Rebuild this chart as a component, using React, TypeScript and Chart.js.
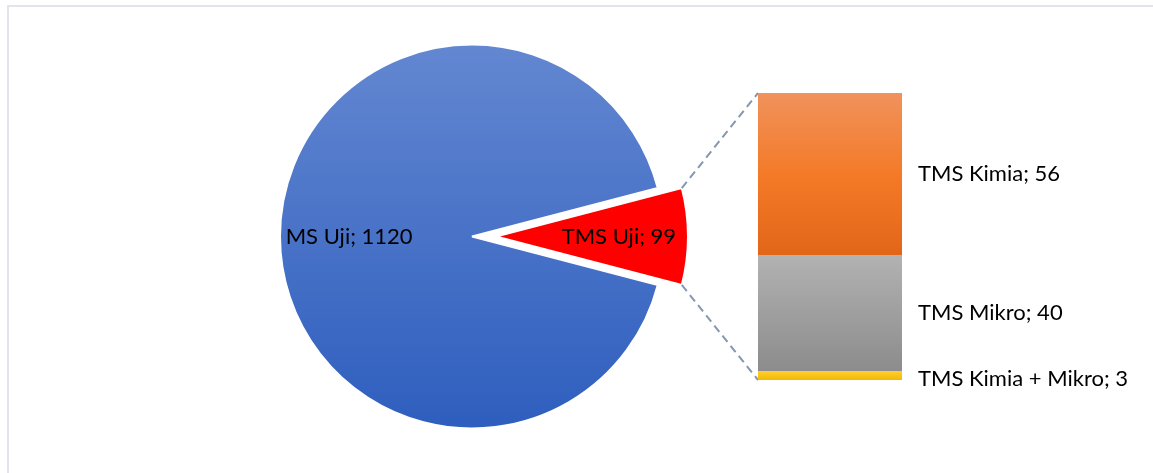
import React, { useEffect, useRef } from "react";
import { Chart, registerables } from "chart.js";
Chart.register(...registerables);

const pieLabels = ["TMS Uji", "MS Uji"];
const pieValues = [99, 1120];
const barLabels = ["TMS Kimia + Mikro", "TMS Mikro", "TMS Kimia"];
const barValues = [3, 40, 56];

const W = 1153;
const H = 473;
const PIE_CX = 472;
const PIE_R = 192;
const EXPLODE = [24, 0];
const FONT = "22px Lato";

const barStops: string[][] = [
  ["#ffcd30", "#f2b900"],
  ["#b2b2b2", "#8c8c8c"],
  ["#f0925c", "#f47a28", "#e26618"],
];

export default function App() {
  const pieRef = useRef<HTMLCanvasElement>(null);
  const barRef = useRef<HTMLCanvasElement>(null);

  useEffect(() => {
    if (!pieRef.current || !barRef.current) return;

    const barLabelPlugin = {
      id: "barLabels",
      afterDatasetsDraw(chart: any) {
        const ctx = chart.ctx;
        ctx.save();
        ctx.font = FONT;
        ctx.fillStyle = "#000";
        ctx.textAlign = "left";
        ctx.textBaseline = "middle";
        chart.data.datasets.forEach((ds: any, i: number) => {
          const el: any = chart.getDatasetMeta(i).data[0];
          if (!el) return;
          const x = el.x + el.width / 2 + 16;
          const y = (el.y + el.base) / 2 + (i === 0 ? 3 : 0);
          ctx.fillText(`${ds.label}; ${ds.data[0]}`, x, y);
        });
        ctx.restore();
      },
    };

    const cum: number[] = [];
    barValues.reduce((acc, v, i) => {
      cum[i] = acc;
      return acc + v;
    }, 0);
    const barTotal = barValues.reduce((a, b) => a + b, 0);

    const barChart = new Chart(barRef.current, {
      type: "bar",
      data: {
        labels: ["TMS"],
        datasets: barValues.map((v, i) => ({
          label: barLabels[i],
          data: [v],
          borderWidth: 0,
          barPercentage: 1,
          categoryPercentage: 1,
          backgroundColor: (c: any) => {
            const chart = c.chart;
            const ys = chart.scales?.y;
            if (!ys) return barStops[i][0];
            const top = ys.getPixelForValue(cum[i] + v);
            const bot = ys.getPixelForValue(cum[i]);
            if (!isFinite(top) || !isFinite(bot) || top === bot) return barStops[i][0];
            const g = chart.ctx.createLinearGradient(0, top, 0, bot);
            const st = barStops[i];
            st.forEach((col, k) => g.addColorStop(k / (st.length - 1), col));
            return g;
          },
        })),
      },
      options: {
        responsive: false,
        animation: false,
        devicePixelRatio: 1,
        layout: { padding: { left: 758, right: W - 902, top: 93, bottom: H - 380 } },
        plugins: { legend: { display: false }, tooltip: { enabled: false } },
        events: [],
        scales: {
          x: { stacked: true, display: false },
          y: { stacked: true, display: false, min: 0, max: barTotal },
        },
      },
      plugins: [barLabelPlugin],
    } as any);

    const total = pieValues.reduce((a, b) => a + b, 0);
    const redDeg = (pieValues[0] / total) * 360;

    const piePlugin = {
      id: "pieExtras",
      beforeDatasetDraw(chart: any, args: any) {
        const ctx = chart.ctx;
        args.meta.data.forEach((el: any, i: number) => {
          const t = EXPLODE[i] || 0;
          const m = (el.startAngle + el.endAngle) / 2;
          ctx.save();
          ctx.translate(Math.cos(m) * t, Math.sin(m) * t);
          el.draw(ctx, chart.chartArea);
          ctx.restore();
        });
        return false;
      },
      afterDatasetsDraw(chart: any) {
        const ctx = chart.ctx;
        const meta = chart.getDatasetMeta(0);
        ctx.save();
        const red: any = meta.data[0];
        const off = EXPLODE[0];
        const mid = (red.startAngle + red.endAngle) / 2;
        const cx = red.x + Math.cos(mid) * off;
        const cy = red.y + Math.sin(mid) * off;
        const p1 = {
          x: cx + Math.cos(red.startAngle) * red.outerRadius,
          y: cy + Math.sin(red.startAngle) * red.outerRadius,
        };
        const p2 = {
          x: cx + Math.cos(red.endAngle) * red.outerRadius,
          y: cy + Math.sin(red.endAngle) * red.outerRadius,
        };
        const topEl: any = barChart.getDatasetMeta(barValues.length - 1).data[0];
        const botEl: any = barChart.getDatasetMeta(0).data[0];
        if (topEl && botEl) {
          ctx.strokeStyle = "#8497b0";
          ctx.lineWidth = 2;
          ctx.setLineDash([8, 5]);
          ctx.beginPath();
          ctx.moveTo(p1.x, p1.y);
          ctx.lineTo(topEl.x - topEl.width / 2, topEl.y);
          ctx.moveTo(p2.x, p2.y);
          ctx.lineTo(botEl.x - botEl.width / 2, botEl.base);
          ctx.stroke();
          ctx.setLineDash([]);
        }
        ctx.font = FONT;
        ctx.fillStyle = "#000";
        ctx.textAlign = "center";
        ctx.textBaseline = "middle";
        meta.data.forEach((el: any, i: number) => {
          const o = EXPLODE[i] || 0;
          const m = (el.startAngle + el.endAngle) / 2;
          const d = o + el.outerRadius * 0.64;
          ctx.fillText(
            `${pieLabels[i]}; ${pieValues[i]}`,
            el.x + Math.cos(m) * d,
            el.y + Math.sin(m) * d
          );
        });
        ctx.restore();
      },
    };

    const pieChart = new Chart(pieRef.current, {
      type: "pie",
      data: {
        labels: pieLabels,
        datasets: [
          {
            data: pieValues,
            borderColor: "#ffffff",
            borderWidth: 2,
            backgroundColor: (c: any) => {
              if (c.dataIndex === 0) return "#ff0000";
              const chart = c.chart;
              const g = chart.ctx.createLinearGradient(0, H / 2 - PIE_R, 0, H / 2 + PIE_R);
              g.addColorStop(0, "#6387d1");
              g.addColorStop(1, "#2e5ebe");
              return g;
            },
          },
        ],
      },
      options: {
        responsive: false,
        animation: false,
        devicePixelRatio: 1,
        radius: PIE_R,
        rotation: 90 - redDeg / 2,
        layout: { padding: { left: 0, right: W - 2 * PIE_CX, top: 0, bottom: 0 } },
        plugins: { legend: { display: false }, tooltip: { enabled: false } },
        events: [],
      },
      plugins: [piePlugin],
    } as any);

    return () => {
      pieChart.destroy();
      barChart.destroy();
    };
  }, []);

  return (
    <div style={{ position: "absolute", left: 0, top: 0, width: W, height: H, background: "#fff", overflow: "hidden" }}>
      <div
        style={{
          position: "absolute",
          left: 7,
          top: 5,
          width: W,
          height: H,
          borderTop: "2px solid #e1e5eb",
          borderLeft: "2px solid #e1e5eb",
        }}
      />
      <canvas ref={pieRef} width={W} height={H} style={{ position: "absolute", left: 0, top: 0 }} />
      <canvas ref={barRef} width={W} height={H} style={{ position: "absolute", left: 0, top: 0 }} />
    </div>
  );
}
